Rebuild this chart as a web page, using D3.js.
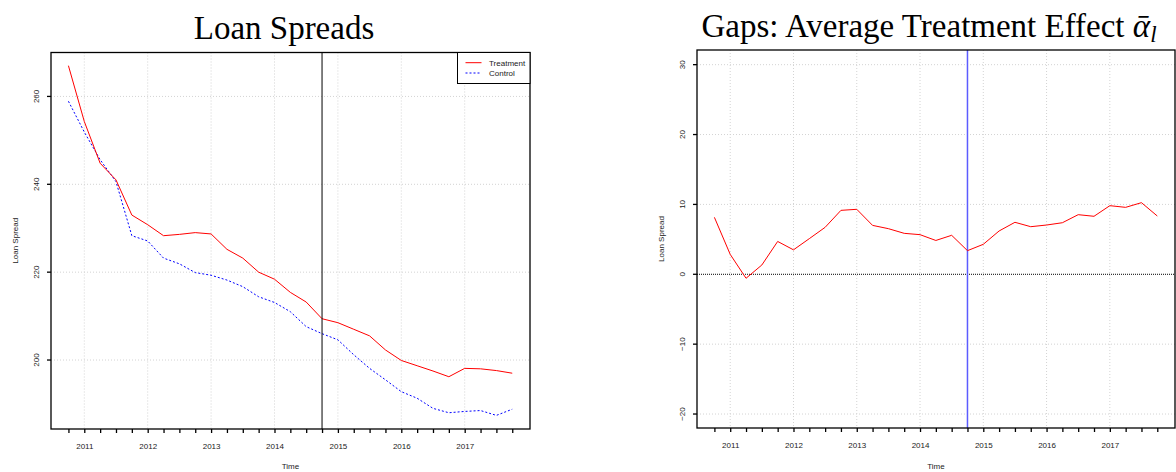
<!DOCTYPE html>
<html>
<head>
<meta charset="utf-8">
<script src="https://cdn.jsdelivr.net/npm/d3@7"></script>
<style>
  body { margin: 0; background: #fff; }
  svg { display: block; }
  text { font-family: "Liberation Sans", Arial, sans-serif; }
  .title { font-family: "Liberation Serif", "DejaVu Serif", serif; font-size: 33px; fill: #000; }
</style>
</head>
<body>
<svg id="canvas" width="1176" height="472"></svg>
<script>
// quarterly observations
const quarters = [2010.75, 2011, 2011.25, 2011.5, 2011.75, 2012, 2012.25, 2012.5, 2012.75,
  2013, 2013.25, 2013.5, 2013.75, 2014, 2014.25, 2014.5, 2014.75, 2015, 2015.25, 2015.5,
  2015.75, 2016, 2016.25, 2016.5, 2016.75, 2017, 2017.25, 2017.5, 2017.75];

const treatment = [267.0, 254.3, 244.8, 241.0, 233.0, 230.8, 228.3, 228.6, 229.0, 228.7,
  225.2, 223.2, 220.0, 218.4, 215.4, 213.2, 209.4, 208.5, 207.0, 205.5, 202.3, 199.9,
  198.7, 197.5, 196.2, 198.1, 198.0, 197.6, 197.0];

const control = [258.9, 251.9, 245.6, 240.6, 228.3, 227.1, 223.2, 221.9, 219.9, 219.3,
  218.2, 216.7, 214.4, 213.1, 211.0, 207.6, 206.0, 204.6, 201.2, 198.1, 195.5, 192.8,
  191.3, 189.0, 188.0, 188.3, 188.5, 187.4, 188.8];

const gap = [8.15, 2.85, -0.57, 1.33, 4.7, 3.5, 5.1, 6.72, 9.15, 9.3, 7.0, 6.53, 5.86,
  5.67, 4.84, 5.58, 3.38, 4.29, 6.2, 7.44, 6.81, 7.05, 7.38, 8.53, 8.3, 9.82, 9.58,
  10.25, 8.34];

const yearTicks = [2011, 2012, 2013, 2014, 2015, 2016, 2017];
const spreadTicks = [200, 220, 240, 260];
const gapTicks = [-20, -10, 0, 10, 20, 30];
const legendNames = ['Treatment', 'Control'];
const treatmentStart = 2014.75;

const svg = d3.select('#canvas');

const drawPanel = (opts) => {
  const { left, right, top, bottom, yDomain, yTicks } = opts;
  const g = svg.append('g');

  const x = d3.scaleLinear().domain([2010.475, 2018.03]).range([left, right]);
  const y = d3.scaleLinear().domain(yDomain).range([bottom, top]);

  // grid
  g.selectAll('.vgrid')
    .data(yearTicks)
    .enter()
    .append('line')
    .attr('x1', (d) => x(d)).attr('x2', (d) => x(d))
    .attr('y1', top).attr('y2', bottom)
    .attr('stroke', '#d3d3d3')
    .attr('stroke-dasharray', '1,2');

  g.selectAll('.hgrid')
    .data(yTicks.filter((d) => !(opts.zeroLine && d === 0)))
    .enter()
    .append('line')
    .attr('x1', left).attr('x2', right)
    .attr('y1', (d) => y(d)).attr('y2', (d) => y(d))
    .attr('stroke', '#d3d3d3')
    .attr('stroke-dasharray', '1,2');

  // x axis
  const xAxis = d3.axisBottom(x)
    .tickValues(quarters)
    .tickSize(4)
    .tickPadding(10)
    .tickFormat((d) => (Number.isInteger(d) ? d : ''));
  const xg = g.append('g').attr('transform', 'translate(0,' + bottom + ')').call(xAxis);
  xg.select('.domain').remove();
  xg.selectAll('line').attr('stroke', '#000').attr('stroke-width', 1.3);
  xg.selectAll('text').attr('font-size', 8).attr('fill', '#222')
    .attr('font-family', '"Liberation Sans", Arial, sans-serif');

  // y axis
  const yg = g.append('g');
  yg.selectAll('line')
    .data(yTicks)
    .enter()
    .append('line')
    .attr('x1', left - 4).attr('x2', left)
    .attr('y1', (d) => y(d)).attr('y2', (d) => y(d))
    .attr('stroke', '#000').attr('stroke-width', 1.3);
  yg.selectAll('text')
    .data(yTicks)
    .enter()
    .append('text')
    .attr('transform', (d) => 'translate(' + (left - 12) + ',' + y(d) + ') rotate(-90)')
    .attr('text-anchor', 'middle')
    .attr('font-size', 8)
    .attr('fill', '#222')
    .text((d) => (d < 0 ? '\u2212' + Math.abs(d) : d));

  // axis titles
  g.append('text')
    .attr('x', (left + right) / 2)
    .attr('y', 469)
    .attr('text-anchor', 'middle')
    .attr('font-size', 8)
    .attr('fill', '#222')
    .text('Time');
  g.append('text')
    .attr('transform', 'translate(' + (left - 33) + ',' + (top + bottom) / 2 + ') rotate(-90)')
    .attr('text-anchor', 'middle')
    .attr('font-size', 8)
    .attr('fill', '#222')
    .text('Loan Spread');

  return { g, x, y };
};

// ---- left panel: loan spreads ----
const L = drawPanel({
  left: 51, right: 530, top: 52.5, bottom: 429,
  yDomain: [184.3, 270.0], yTicks: spreadTicks
});

const lineL = d3.line()
  .x((d, i) => L.x(quarters[i]))
  .y((d) => L.y(d));

L.g.append('path')
  .datum(control)
  .attr('d', lineL)
  .attr('fill', 'none')
  .attr('stroke', '#0000ff')
  .attr('stroke-width', 1)
  .attr('stroke-dasharray', '2,2');

L.g.append('path')
  .datum(treatment)
  .attr('d', lineL)
  .attr('fill', 'none')
  .attr('stroke', '#ff0000')
  .attr('stroke-width', 1);

L.g.append('line')
  .attr('x1', L.x(treatmentStart)).attr('x2', L.x(treatmentStart))
  .attr('y1', 52.5).attr('y2', 429)
  .attr('stroke', '#000').attr('stroke-width', 1);

L.g.append('rect')
  .attr('x', 51).attr('y', 52.5).attr('width', 479).attr('height', 376.5)
  .attr('fill', 'none').attr('stroke', '#000').attr('stroke-width', 1.3);

// legend
const legend = L.g.append('g');
legend.append('rect')
  .attr('x', 457.5).attr('y', 52.5).attr('width', 72.5).attr('height', 31)
  .attr('fill', '#fff').attr('stroke', '#000').attr('stroke-width', 1);
legend.selectAll('.lg')
  .data(legendNames)
  .enter()
  .append('line')
  .attr('x1', 465.5).attr('x2', 481.5)
  .attr('y1', (d, i) => 62.7 + i * 10.3).attr('y2', (d, i) => 62.7 + i * 10.3)
  .attr('stroke', (d, i) => (i === 0 ? '#ff0000' : '#0000ff'))
  .attr('stroke-dasharray', (d, i) => (i === 0 ? null : '2,2'))
  .attr('stroke-width', 1);
legend.selectAll('.lt')
  .data(legendNames)
  .enter()
  .append('text')
  .attr('x', 489)
  .attr('y', (d, i) => 65.6 + i * 10.3)
  .attr('font-size', 8)
  .attr('fill', '#222')
  .text((d) => d);

svg.append('text')
  .attr('class', 'title')
  .attr('x', 284)
  .attr('y', 38.5)
  .attr('text-anchor', 'middle')
  .text('Loan Spreads');

// ---- right panel: gaps ----
const R = drawPanel({
  left: 697, right: 1175, top: 50, bottom: 428,
  yDomain: [-22.0, 32.1], yTicks: gapTicks, zeroLine: true
});

R.g.append('line')
  .attr('x1', 697).attr('x2', 1175)
  .attr('y1', R.y(0)).attr('y2', R.y(0))
  .attr('stroke', '#000').attr('stroke-width', 1)
  .attr('stroke-dasharray', '1,1');

R.g.append('line')
  .attr('x1', R.x(treatmentStart)).attr('x2', R.x(treatmentStart))
  .attr('y1', 50).attr('y2', 428)
  .attr('stroke', '#5c5cff').attr('stroke-width', 1.5);

const lineR = d3.line()
  .x((d, i) => R.x(quarters[i]))
  .y((d) => R.y(d));

R.g.append('path')
  .datum(gap)
  .attr('d', lineR)
  .attr('fill', 'none')
  .attr('stroke', '#ff0000')
  .attr('stroke-width', 1);

R.g.append('rect')
  .attr('x', 697).attr('y', 50).attr('width', 478).attr('height', 378)
  .attr('fill', 'none').attr('stroke', '#000').attr('stroke-width', 1.3);

const rt = svg.append('text')
  .attr('class', 'title')
  .attr('x', 929)
  .attr('y', 37)
  .attr('text-anchor', 'middle');
rt.append('tspan').text('Gaps: Average Treatment Effect ');
rt.append('tspan').attr('font-style', 'italic').text('\u03B1\u0304');
rt.append('tspan').attr('font-style', 'italic').attr('font-size', 23).attr('dy', 5).text('l');
</script>
</body>
</html>
